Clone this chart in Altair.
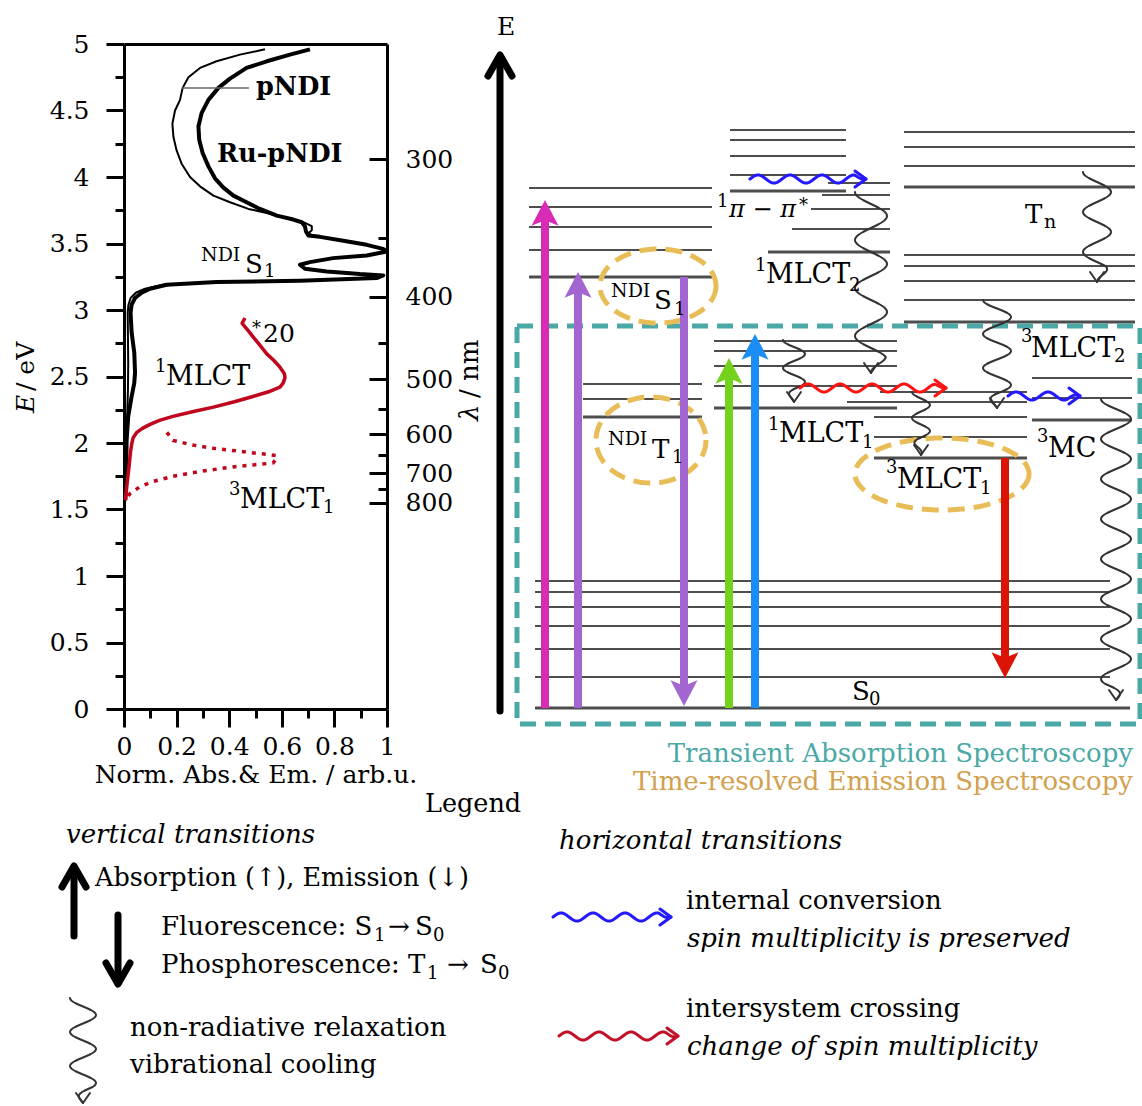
import altair as alt
import numpy as np
import pandas as pd

FONT = "DejaVu Serif"

# ---------------- steady-state spectra: photon energy (eV) vs normalised signal ----------------
ru_pndi_E = [4.96, 4.92, 4.87, 4.82, 4.74, 4.67, 4.58, 4.48, 4.38, 4.28, 4.18, 4.08, 3.99, 3.92,
             3.86, 3.81, 3.76, 3.71, 3.68, 3.66, 3.63, 3.59, 3.56, 3.55, 3.52, 3.49, 3.46, 3.44,
             3.41, 3.39, 3.36, 3.34, 3.31, 3.29, 3.27, 3.26, 3.24, 3.22, 3.21, 3.19, 3.16, 3.13,
             3.09, 3.04, 2.98, 2.83, 2.68, 2.53, 2.45, 2.35, 2.20, 2.02, 1.77, 1.57]
ru_pndi_abs = [0.707, 0.631, 0.543, 0.466, 0.403, 0.359, 0.321, 0.295, 0.283, 0.286, 0.299, 0.321,
               0.346, 0.378, 0.416, 0.466, 0.517, 0.581, 0.644, 0.676, 0.688, 0.692, 0.701, 0.745,
               0.834, 0.923, 0.985, 1.0, 0.923, 0.795, 0.707, 0.669, 0.688, 0.771, 0.897, 0.986,
               0.961, 0.669, 0.352, 0.162, 0.099, 0.067, 0.042, 0.029, 0.025, 0.029, 0.039, 0.042,
               0.039, 0.029, 0.016, 0.010, 0.008, 0.005]

pndi_E = [4.96, 4.92, 4.87, 4.82, 4.75, 4.67, 4.58, 4.50, 4.40, 4.30, 4.20, 4.10, 4.00, 3.93, 3.86,
          3.81, 3.76, 3.73, 3.69, 3.66, 3.63, 3.60, 3.575, 3.565, 3.55, 3.52, 3.49, 3.46, 3.44, 3.41,
          3.39, 3.36, 3.34, 3.31, 3.29, 3.27, 3.26, 3.24, 3.22, 3.21, 3.19, 3.16, 3.13, 3.09, 3.04,
          2.98, 2.80, 2.60, 2.40, 2.20, 2.00, 1.80, 1.60]
pndi_abs = [0.536, 0.441, 0.352, 0.289, 0.245, 0.223, 0.213, 0.194, 0.184, 0.188, 0.200, 0.219,
            0.251, 0.289, 0.340, 0.403, 0.473, 0.543, 0.619, 0.682, 0.714, 0.714, 0.700, 0.715,
            0.745, 0.834, 0.923, 0.985, 1.0, 0.923, 0.795, 0.707, 0.669, 0.688, 0.771, 0.897,
            0.986, 0.961, 0.669, 0.352, 0.150, 0.080, 0.045, 0.025, 0.017, 0.014, 0.015, 0.016,
            0.015, 0.012, 0.008, 0.005, 0.003]

# 1MLCT absorption band, scaled by 20
mlct_E = [2.94, 2.90, 2.85, 2.80, 2.74, 2.67, 2.62, 2.57, 2.52, 2.49, 2.45, 2.42, 2.385, 2.35, 2.31,
          2.27, 2.235, 2.20, 2.17, 2.14, 2.11, 2.08, 2.04, 2.00, 1.95, 1.90, 1.80, 1.70, 1.62, 1.57]
mlct_abs_x20 = [0.46, 0.449, 0.47, 0.49, 0.515, 0.543, 0.57, 0.593, 0.61, 0.612, 0.605, 0.593, 0.55,
                0.49, 0.42, 0.34, 0.26, 0.186, 0.135, 0.099, 0.07, 0.049, 0.035, 0.03, 0.026, 0.023,
                0.018, 0.012, 0.008, 0.005]

# 3MLCT1 emission
em_E = [2.08, 2.02, 1.985, 1.96, 1.94, 1.92, 1.905, 1.875, 1.85, 1.835, 1.82, 1.79, 1.75, 1.71,
        1.67, 1.62, 1.57]
em_signal = [0.163, 0.186, 0.26, 0.34, 0.43, 0.517, 0.58, 0.577, 0.567, 0.49, 0.415, 0.30, 0.186,
             0.11, 0.06, 0.023, 0.005]

energy_ticks = [0, 0.5, 1, 1.5, 2, 2.5, 3, 3.5, 4, 4.5, 5]
energy_minor = [0.25, 0.75, 1.25, 1.75, 2.25, 2.75, 3.25, 3.75, 4.25, 4.75]
signal_ticks = [0, 0.2, 0.4, 0.6, 0.8, 1]
signal_minor = [0.1, 0.3, 0.5, 0.7, 0.9]
wavelength_ticks = [300, 400, 500, 600, 700, 800]
wavelength_minor = [350, 450, 550, 650, 750]
HC = 1239.84  # eV*nm

# ---------------- Jablonski diagram (diagram units, y grows downwards) ----------------
# each manifold: left end(s), right end, level heights; the heavy line marks the band origin
manifolds = [
    dict(left=529, right=712, y=[188, 207, 227, 250, 277], heavy=[277]),                 # NDI S
    dict(left=583, right=702, y=[384, 399, 417], heavy=[417]),                           # NDI T
    dict(left=730, right=846, y=[130, 140, 156, 175, 191], heavy=[191]),                 # 1pi-pi*
    dict(left=[828, 822, 811, 792, 768], right=890, y=[183, 195, 209, 229, 252], heavy=[252]),  # 1MLCT2
    dict(left=904, right=1135, y=[132, 147, 166, 187, 255, 266, 281, 300, 322], heavy=[187, 322]),  # Tn / 3MLCT2
    dict(left=714, right=897, y=[341, 351, 366, 386, 408], heavy=[408]),                 # 1MLCT1
    dict(left=[880, 847, 874, 874, 874], right=1027, y=[392, 402, 417, 437, 458], heavy=[458]),  # 3MLCT1
    dict(left=1032, right=1132, y=[378, 398, 420], heavy=[420]),                         # 3MC
    dict(left=535, right=1110, y=[581, 592, 607, 626, 649, 677], heavy=[]),              # S0 vibrations
    dict(left=535, right=1130, y=[708], heavy=[708]),                                    # S0
]

# vertical radiative transitions: x, start, end
MAG, PURP, GREEN, BLUE, RED = "#d92cb6", "#a366d1", "#74d11c", "#1b8ef5", "#dc1405"
trans_x = [545, 578, 684, 729, 755, 1005]
trans_from = [708, 708, 277, 708, 708, 458]
trans_to = [200, 272, 706, 358, 334, 678]
trans_color = [MAG, PURP, PURP, GREEN, BLUE, RED]

# non-radiative relaxation (vertical wavy): centre x, start, end, amplitude, period
relax_x = [871, 1097, 997, 794, 921, 1116, 83]
relax_from = [192, 172, 300, 340, 392, 399, 998]
relax_to = [373, 282, 408, 402, 455, 700, 1103]
relax_amp = [16, 14, 14, 11, 9, 15, 13]
relax_period = [48, 40, 34, 28, 26, 40, 34]

# internal conversion / intersystem crossing (horizontal wavy): start, end, height, colour
IC_COL, ISC_COL, ISC_LEG = "#2418ff", "#ff1212", "#c3102a"
hop_from = [750, 1008, 800, 553, 559]
hop_to = [866, 1080, 946, 671, 678]
hop_y = [179, 396, 388, 917, 1036]
hop_color = [IC_COL, IC_COL, ISC_COL, IC_COL, ISC_LEG]

TEAL, GOLD, GOLD_TXT = "#4aa9a6", "#e8bd58", "#d2a04e"
ellipse_cx = [658, 651, 942]
ellipse_cy = [286, 440, 474]
ellipse_rx = [58, 55, 87]
ellipse_ry = [37, 43, 36]

# text runs: (text, x, baseline, size, colour)
K = "black"
txt_normal = [
    ("NDI", 201, 261, 19, K), ("S", 245, 273, 26, K), ("1", 264, 277, 18, K),
    ("*", 252, 334, 18, K), ("20", 263, 342, 25, K),
    ("1", 155, 372, 18, K), ("MLCT", 166, 385, 27, K),
    ("3", 229, 495, 18, K), ("MLCT", 240, 508, 27, K), ("1", 323, 513, 18, K),
    ("E", 497, 35, 25, K),
    ("1", 717, 207, 18, K), ("*", 799, 211, 18, K),
    ("1", 755, 271, 18, K), ("MLCT", 766, 283, 27, K), ("2", 849, 291, 18, K),
    ("NDI", 611, 297, 19, K), ("S", 654, 309, 26, K), ("1", 674, 315, 18, K),
    ("NDI", 608, 445, 19, K), ("T", 652, 458, 26, K), ("1", 672, 463, 18, K),
    ("T", 1025, 223, 26, K), ("n", 1044, 228, 19, K),
    ("3", 1021, 342, 18, K), ("MLCT", 1031, 357, 27, K), ("2", 1114, 362, 18, K),
    ("1", 768, 430, 18, K), ("MLCT", 779, 442, 27, K), ("1", 862, 448, 18, K),
    ("3", 1037, 442, 18, K), ("MC", 1048, 457, 27, K),
    ("3", 886, 473, 18, K), ("MLCT", 897, 488, 27, K), ("1", 980, 494, 18, K),
    ("S", 852, 700, 26, K), ("0", 869, 705, 18, K),
    ("Legend", 425, 812, 25.5, K),
    ("Absorption (\u2191), Emission (\u2193)", 95, 886, 25.5, K),
    ("Fluorescence: S", 161, 935, 26, K), ("1", 374, 941, 18, K),
    ("\u2192", 388, 935, 26, K), ("S", 415, 935, 26, K), ("0", 433, 941, 18, K),
    ("Phosphorescence: T", 161, 973, 26, K), ("1", 427, 979, 18, K),
    ("\u2192", 447, 973, 26, K), ("S", 480, 973, 26, K), ("0", 498, 979, 18, K),
    ("non-radiative relaxation", 130, 1036, 26, K),
    ("vibrational cooling", 130, 1073, 26, K),
    ("internal conversion", 686, 909, 26, K),
    ("intersystem crossing", 686, 1017, 26, K),
]
txt_italic = [
    ("\u03c0 \u2212 \u03c0", 729, 217, 24, K),
    ("vertical transitions", 66, 843, 26, K),
    ("horizontal transitions", 559, 849, 26, K),
    ("spin multiplicity is preserved", 687, 947, 26, K),
    ("change of spin multiplicity", 687, 1055, 26, K),
]
txt_bold = [("pNDI", 256, 95, 25.5, K), ("Ru-pNDI", 217, 162, 25.5, K)]
txt_right = [
    ("Transient Absorption Spectroscopy", 1133, 762, 26, TEAL),
    ("Time-resolved Emission Spectroscopy", 1133, 790, 26, GOLD_TXT),
]
txt_center = [("Norm. Abs.& Em. / arb.u.", 256, 783, 25, K)]
# rotated axis titles
rot_italic = [("E", 34, 413, 25, K), ("\u03bb", 478, 421, 26, K)]
rot_normal = [("/ eV", 34, 391, 25, K), ("/ nm", 478, 398, 26, K)]

# ---------------- scales ----------------
SX = alt.Scale(domain=[0, 1], range=[124, 387])
SY = alt.Scale(domain=[0, 5], range=[709, 44])
DX = alt.Scale(domain=[0, 1142], range=[0, 1142])
DY = alt.Scale(domain=[0, 1106], range=[0, 1106])


def ax(orient, offset, values=None, **kw):
    d = dict(orient=orient, offset=offset, grid=False, domainColor="black", domainWidth=3,
             tickColor="black", tickWidth=3, labelColor="black", labelFont=FONT,
             labelFontSize=25, labelOverlap=False, labelFlush=False)
    if values is not None:
        d["values"] = values
    d.update(kw)
    return alt.Axis(**d)


def spectrum(E, a, xaxis, yaxis, **mark):
    df = pd.DataFrame({"E": E, "a": a, "i": range(len(E))})
    return alt.Chart(df).mark_line(**mark).encode(
        x=alt.X("a:Q", scale=SX, axis=xaxis, title=None),
        y=alt.Y("E:Q", scale=SY, axis=yaxis, title=None),
        order="i:Q",
    )


lam_major = [HC / w for w in wavelength_ticks]
lam_minor = [HC / w for w in wavelength_minor]

spec_layers = [
    spectrum(ru_pndi_E, ru_pndi_abs,
             ax("bottom", -397, signal_ticks, format="~g", tickSize=18, labelPadding=7),
             ax("left", -124, energy_ticks, format="~g", tickSize=18, labelPadding=17),
             color="black", strokeWidth=4, strokeJoin="round"),
    spectrum(pndi_E, pndi_abs,
             ax("bottom", -397, signal_minor, tickSize=9, labels=False, domain=False),
             ax("left", -124, energy_minor, tickSize=9, labels=False, domain=False),
             color="black", strokeWidth=2, strokeJoin="round"),
    spectrum(mlct_E, mlct_abs_x20,
             ax("top", -44, ticks=False, labels=False),
             ax("left", -387, lam_major, tickSize=18, labels=False),
             color="#c0051c", strokeWidth=3.5, strokeJoin="round"),
    spectrum(em_E, em_signal, None,
             ax("left", -387, lam_minor, tickSize=9, labels=False, domain=False),
             color="#c0051c", strokeWidth=3.5, strokeDash=[4, 6]),
    spectrum([4.67, 4.67], [0.22, 0.475], None,
             ax("right", -755, lam_major, ticks=False, domain=False, labelPadding=18,
                labelExpr=f"format({HC}/datum.value, '.0f')"),
             color="#666666", strokeWidth=1.5),
]


def DXe(f):
    return alt.X(f"{f}:Q", scale=DX, axis=None)


def DYe(f):
    return alt.Y(f"{f}:Q", scale=DY, axis=None)


# ---------------- energy levels ----------------
rows = []
for m in manifolds:
    lefts = m["left"] if isinstance(m["left"], list) else [m["left"]] * len(m["y"])
    for xl, yv in zip(lefts, m["y"]):
        rows.append(dict(x=xl, x2=m["right"], y=yv, w=3.2 if yv in m["heavy"] else 2))
lev_df = pd.DataFrame(rows)
levels = alt.Chart(lev_df).mark_rule(color="#4d4d4d").encode(
    x=DXe("x"), x2="x2:Q", y=DYe("y"), strokeWidth=alt.StrokeWidth("w:Q", scale=None))

# detection windows
box = alt.Chart(pd.DataFrame({"x": [517], "x2": [1140], "y": [326], "y2": [724]})).mark_rect(
    filled=False, stroke=TEAL, strokeWidth=5, strokeDash=[16, 9]).encode(
    x=DXe("x"), x2="x2:Q", y=DYe("y"), y2="y2:Q")

erows = []
t = np.linspace(0, 2 * np.pi, 161)
for k, (cx, cy, rx, ry) in enumerate(zip(ellipse_cx, ellipse_cy, ellipse_rx, ellipse_ry)):
    for i, tt in enumerate(t):
        erows.append(dict(id=k, i=i, x=cx + rx * np.cos(tt), y=cy + ry * np.sin(tt)))
ellipses = alt.Chart(pd.DataFrame(erows)).mark_line(
    color=GOLD, strokeWidth=5, strokeDash=[17, 9]).encode(
    x=DXe("x"), y=DYe("y"), detail="id:N", order="i:Q")

# ---------------- wavy arrows ----------------
wrows = []
wid = 0


def add_path(pts, color, width):
    global wid
    for i, (px, py) in enumerate(pts):
        wrows.append(dict(id=wid, i=i, x=float(px), y=float(py), c=color, w=width))
    wid += 1


for xc, y0, y1, amp, per in zip(relax_x, relax_from, relax_to, relax_amp, relax_period):
    ys = np.arange(y0, y1 + 0.5, 1.0)
    taper = np.clip((y1 - ys) / 16.0, 0, 1)
    xs = xc - amp * taper * np.cos(2 * np.pi * (ys - y0) / per)
    add_path(list(zip(xs, ys)), "#333333", 2)
    add_path([(xc - 7, y1 - 10), (xc, y1), (xc + 7, y1 - 10)], "#333333", 2)

for x0, x1, yc, col in zip(hop_from, hop_to, hop_y, hop_color):
    xs = np.arange(x0, x1 + 0.5, 1.0)
    taper = np.clip((x1 - xs) / 12.0, 0, 1)
    ys = yc - 4 * taper * np.sin(2 * np.pi * (xs - x0) / 32)
    add_path(list(zip(xs, ys)), col, 3)
    add_path([(x1 - 11, yc - 8), (x1, yc), (x1 - 11, yc + 8)], col, 3)

# energy axis arrow and legend arrows (open chevrons)
axis_arrows = [(500, 711, 55), (74, 936, 866), (118, 915, 984)]
for xa, ya, yb in axis_arrows:
    add_path([(xa, ya), (xa, yb + (3 if yb < ya else -3))], "black", 7)
    s = 1 if yb < ya else -1
    add_path([(xa - 12, yb + s * 21), (xa, yb), (xa + 12, yb + s * 21)], "black", 7)

wavy = alt.Chart(pd.DataFrame(wrows)).mark_line(strokeCap="round", strokeJoin="round").encode(
    x=DXe("x"), y=DYe("y"), detail="id:N", order="i:Q",
    color=alt.Color("c:N", scale=None), strokeWidth=alt.StrokeWidth("w:Q", scale=None))

# ---------------- radiative transitions ----------------
HEAD = "M0,-1L1,0.9L0,0.5L-1,0.9Z"
srows, hrows = [], []
for xa, ya, yb, col in zip(trans_x, trans_from, trans_to, trans_color):
    up = yb < ya
    hc = yb + 13.5 if up else yb - 13.5
    srows.append(dict(x=xa, y=ya, y2=hc, c=col))
    hrows.append(dict(x=xa, y=hc, c=col, ang=0 if up else 180))
shafts = alt.Chart(pd.DataFrame(srows)).mark_rule(strokeWidth=8).encode(
    x=DXe("x"), y=DYe("y"), y2="y2:Q", color=alt.Color("c:N", scale=None))
heads = alt.Chart(pd.DataFrame(hrows)).mark_point(
    shape=HEAD, filled=True, opacity=1, size=729, strokeWidth=0).encode(
    x=DXe("x"), y=DYe("y"), color=alt.Color("c:N", scale=None),
    angle=alt.Angle("ang:Q", scale=None))


# ---------------- text ----------------
def text_layer(runs, style="normal", weight="normal", align="left", angle=0):
    df = pd.DataFrame(runs, columns=["t", "x", "y", "s", "c"])
    return alt.Chart(df).mark_text(
        font=FONT, fontStyle=style, fontWeight=weight, align=align,
        baseline="alphabetic", angle=angle).encode(
        x=DXe("x"), y=DYe("y"), text="t:N",
        size=alt.Size("s:Q", scale=None), color=alt.Color("c:N", scale=None))


texts = [
    text_layer(txt_normal),
    text_layer(txt_italic, style="italic"),
    text_layer(txt_bold, weight="bold"),
    text_layer(txt_right, align="right"),
    text_layer(txt_center, align="center"),
    text_layer(rot_italic, style="italic", angle=270),
    text_layer(rot_normal, angle=270),
]

chart = alt.layer(
    *spec_layers, levels, box, ellipses, wavy, shafts, heads, *texts
).resolve_scale(x="independent", y="independent").properties(
    width=1142, height=1106, padding=0,
    autosize=alt.AutoSizeParams(type="none"),
).configure_view(stroke=None)

chart.save("out.html", embed_options={"renderer": "svg", "actions": False})
